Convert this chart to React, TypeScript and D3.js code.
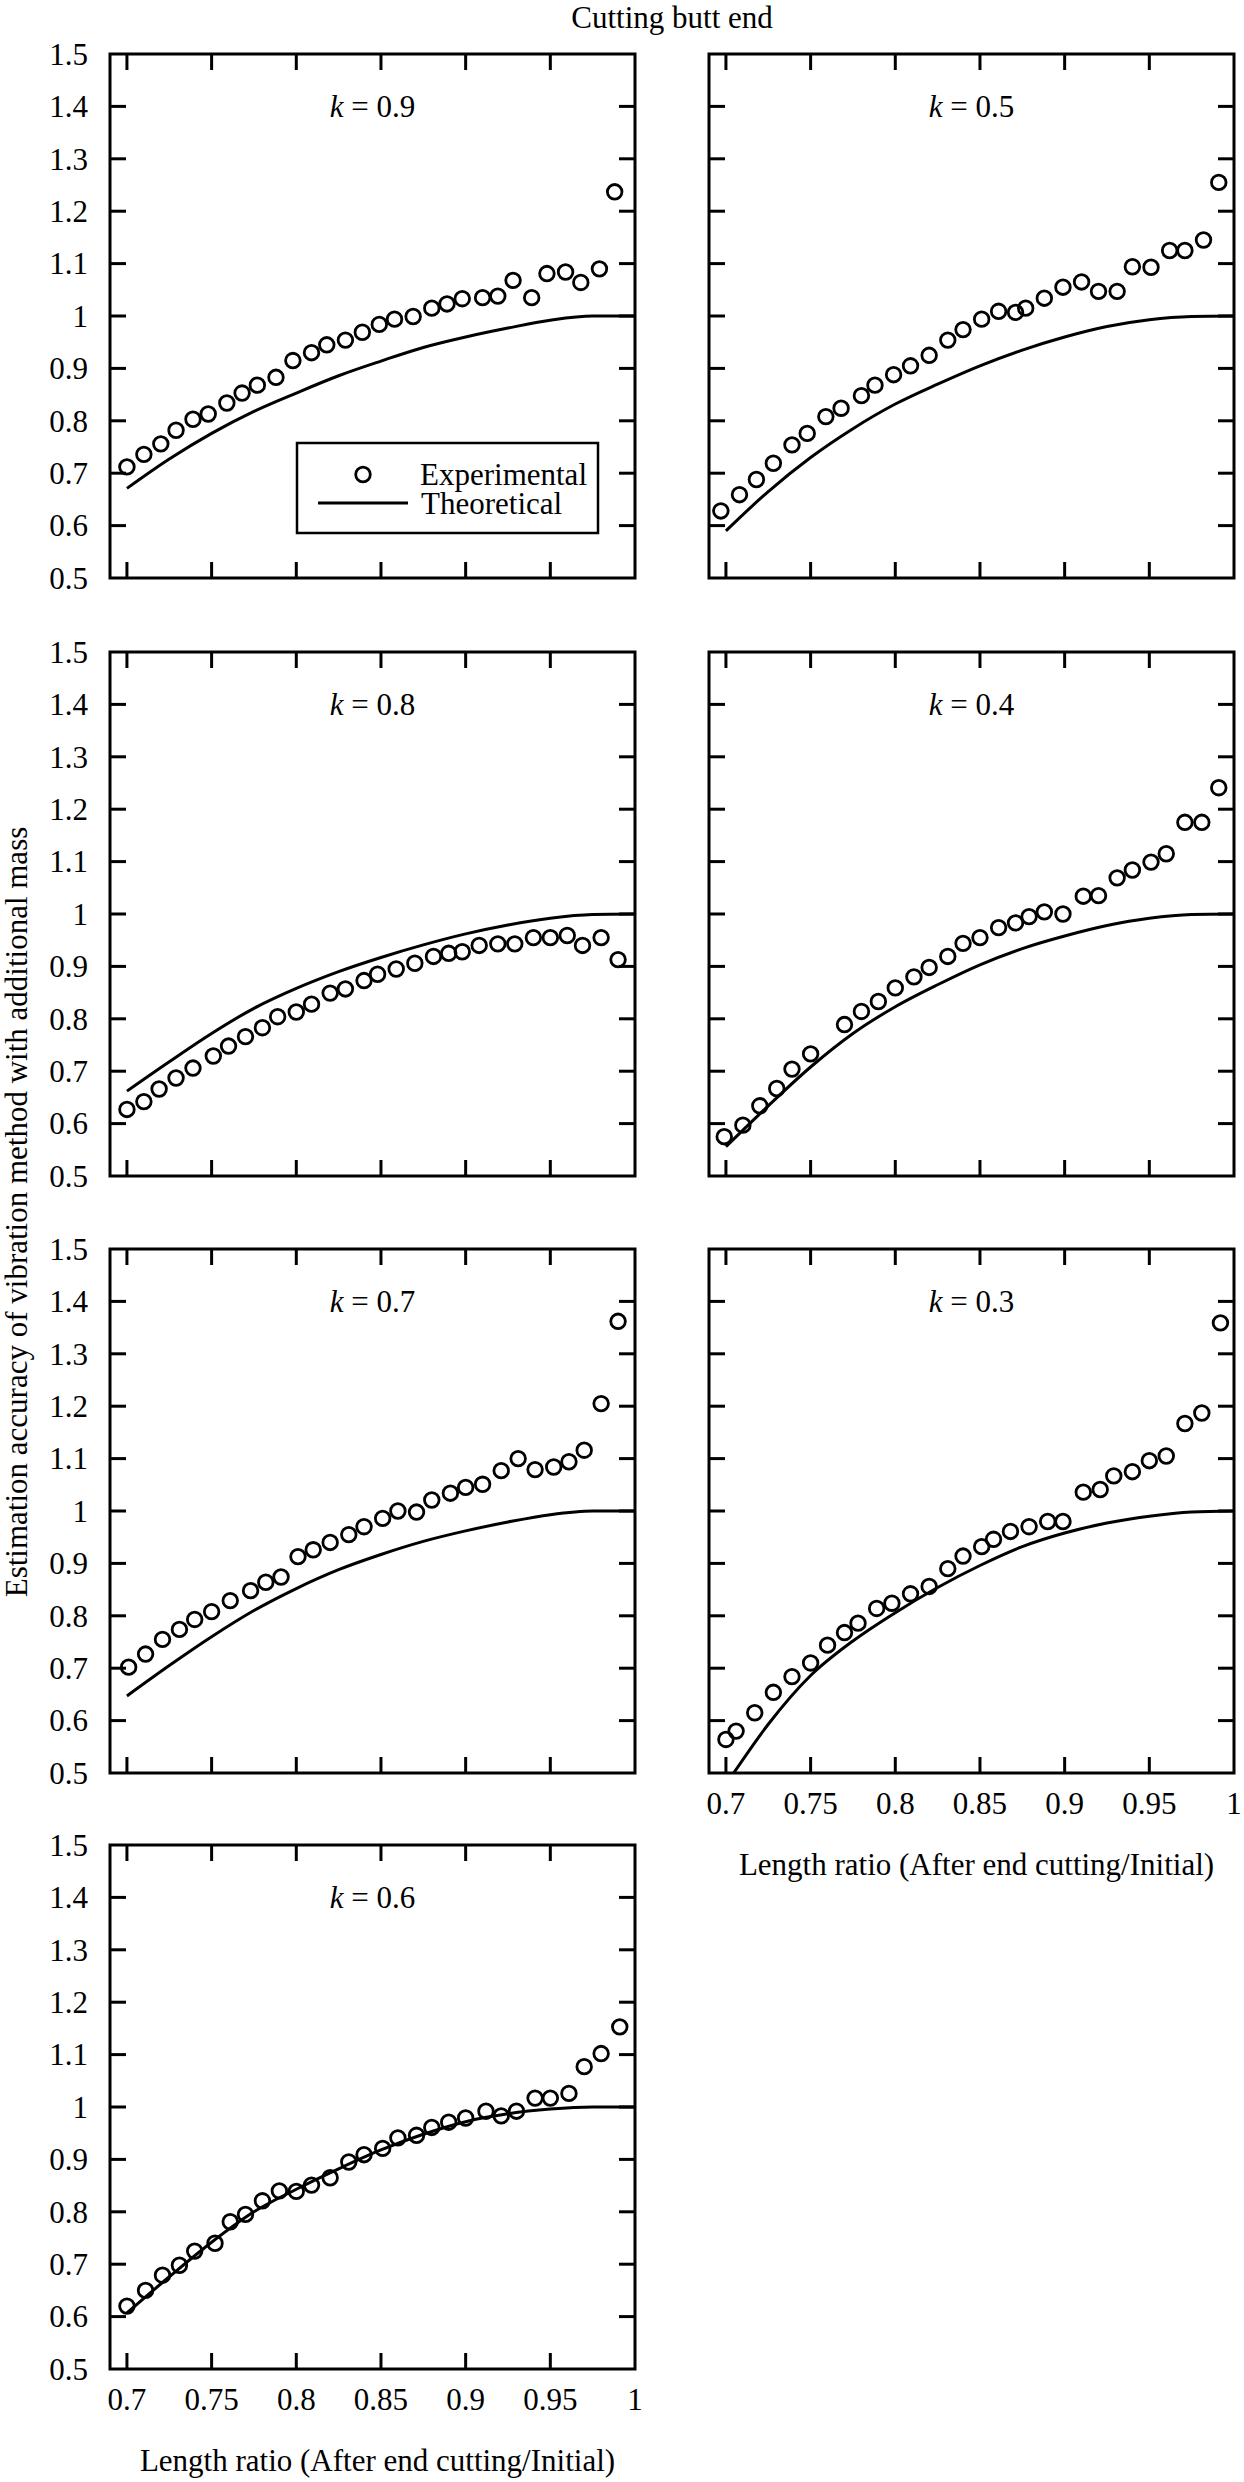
import React, { useEffect, useRef } from 'react';
import * as d3 from 'd3';

// axis ticks shared by all panels
const X_TICKS = [0.7, 0.75, 0.8, 0.85, 0.9, 0.95, 1];
const Y_TICKS = [0.5, 0.6, 0.7, 0.8, 0.9, 1, 1.1, 1.2, 1.3, 1.4, 1.5];

// theoretical curves are read at these length ratios
const THEORY_X = [0.7, 0.725, 0.75, 0.775, 0.8, 0.825, 0.85, 0.875, 0.9, 0.925, 0.95, 0.975, 1.0];

// k = 0.9
const k09X = [0.700, 0.710, 0.720, 0.729, 0.739, 0.748, 0.759, 0.768, 0.777, 0.788, 0.798, 0.809, 0.818, 0.829, 0.839, 0.849, 0.858, 0.869, 0.880, 0.889, 0.898, 0.910, 0.919, 0.928, 0.939, 0.948, 0.959, 0.968, 0.979, 0.988];
const k09Y = [0.712, 0.736, 0.756, 0.782, 0.803, 0.813, 0.834, 0.853, 0.868, 0.883, 0.915, 0.930, 0.945, 0.954, 0.969, 0.984, 0.994, 0.999, 1.015, 1.023, 1.033, 1.035, 1.038, 1.068, 1.035, 1.081, 1.084, 1.064, 1.090, 1.237];
const k09Theory = [0.671, 0.727, 0.776, 0.818, 0.853, 0.886, 0.914, 0.940, 0.960, 0.977, 0.992, 1.0, 1.0];

// k = 0.5
const k05X = [0.697, 0.708, 0.718, 0.728, 0.739, 0.748, 0.759, 0.768, 0.780, 0.788, 0.799, 0.809, 0.820, 0.831, 0.840, 0.851, 0.861, 0.871, 0.877, 0.888, 0.899, 0.910, 0.920, 0.931, 0.940, 0.951, 0.962, 0.971, 0.982, 0.991];
const k05Y = [0.628, 0.659, 0.688, 0.719, 0.754, 0.776, 0.808, 0.824, 0.848, 0.868, 0.888, 0.905, 0.925, 0.954, 0.974, 0.994, 1.009, 1.007, 1.015, 1.034, 1.055, 1.065, 1.047, 1.047, 1.094, 1.093, 1.125, 1.125, 1.145, 1.255];
const k05Theory = [0.590, 0.665, 0.730, 0.785, 0.832, 0.870, 0.905, 0.935, 0.960, 0.980, 0.993, 0.999, 1.0];

// k = 0.8
const k08X = [0.700, 0.710, 0.719, 0.729, 0.739, 0.751, 0.760, 0.770, 0.780, 0.789, 0.800, 0.809, 0.820, 0.829, 0.840, 0.848, 0.859, 0.870, 0.881, 0.890, 0.898, 0.908, 0.919, 0.929, 0.940, 0.950, 0.960, 0.969, 0.980, 0.990];
const k08Y = [0.627, 0.642, 0.666, 0.687, 0.706, 0.729, 0.748, 0.766, 0.783, 0.804, 0.813, 0.828, 0.849, 0.857, 0.873, 0.885, 0.895, 0.906, 0.919, 0.925, 0.928, 0.940, 0.943, 0.943, 0.955, 0.955, 0.959, 0.940, 0.955, 0.913];
const k08Theory = [0.662, 0.718, 0.772, 0.820, 0.858, 0.890, 0.917, 0.941, 0.962, 0.979, 0.992, 0.999, 1.0];

// k = 0.4 (no point at 0.76)
const k04X = [0.699, 0.710, 0.720, 0.730, 0.739, 0.750, 0.770, 0.780, 0.790, 0.800, 0.811, 0.820, 0.831, 0.840, 0.850, 0.861, 0.871, 0.879, 0.888, 0.899, 0.911, 0.920, 0.931, 0.940, 0.951, 0.960, 0.971, 0.981, 0.991];
const k04Y = [0.575, 0.597, 0.634, 0.667, 0.704, 0.733, 0.789, 0.814, 0.833, 0.859, 0.880, 0.898, 0.919, 0.944, 0.955, 0.974, 0.983, 0.995, 1.004, 1.000, 1.034, 1.035, 1.069, 1.084, 1.099, 1.115, 1.175, 1.175, 1.241];
const k04Theory = [0.556, 0.634, 0.708, 0.772, 0.823, 0.865, 0.903, 0.934, 0.958, 0.978, 0.992, 0.999, 1.0];

// k = 0.7
const k07X = [0.701, 0.711, 0.721, 0.731, 0.740, 0.750, 0.761, 0.773, 0.782, 0.791, 0.801, 0.810, 0.820, 0.831, 0.840, 0.851, 0.860, 0.871, 0.880, 0.891, 0.900, 0.910, 0.921, 0.931, 0.941, 0.952, 0.961, 0.970, 0.980, 0.990];
const k07Y = [0.702, 0.727, 0.755, 0.774, 0.793, 0.808, 0.829, 0.848, 0.864, 0.874, 0.913, 0.926, 0.940, 0.955, 0.970, 0.986, 1.000, 0.998, 1.021, 1.034, 1.045, 1.051, 1.077, 1.100, 1.079, 1.084, 1.094, 1.116, 1.205, 1.362];
const k07Theory = [0.647, 0.705, 0.760, 0.810, 0.852, 0.888, 0.917, 0.942, 0.962, 0.979, 0.993, 1.0, 1.0];

// k = 0.3
const k03X = [0.700, 0.706, 0.717, 0.728, 0.739, 0.750, 0.760, 0.770, 0.778, 0.789, 0.798, 0.809, 0.820, 0.831, 0.840, 0.851, 0.858, 0.868, 0.879, 0.890, 0.899, 0.911, 0.921, 0.929, 0.940, 0.950, 0.960, 0.971, 0.981, 0.992];
const k03Y = [0.564, 0.580, 0.615, 0.654, 0.684, 0.710, 0.744, 0.768, 0.786, 0.814, 0.824, 0.842, 0.856, 0.890, 0.914, 0.932, 0.946, 0.961, 0.970, 0.980, 0.980, 1.036, 1.041, 1.067, 1.075, 1.096, 1.105, 1.167, 1.187, 1.359];
const k03Theory = [0.478, 0.593, 0.686, 0.752, 0.806, 0.854, 0.896, 0.932, 0.958, 0.977, 0.990, 0.998, 1.0];

// k = 0.6
const k06X = [0.700, 0.711, 0.721, 0.731, 0.740, 0.752, 0.761, 0.770, 0.780, 0.790, 0.800, 0.809, 0.820, 0.831, 0.840, 0.851, 0.860, 0.871, 0.880, 0.890, 0.900, 0.912, 0.921, 0.930, 0.941, 0.950, 0.961, 0.970, 0.980, 0.991];
const k06Y = [0.620, 0.650, 0.679, 0.698, 0.725, 0.740, 0.781, 0.795, 0.821, 0.840, 0.839, 0.851, 0.865, 0.895, 0.909, 0.921, 0.941, 0.946, 0.961, 0.971, 0.979, 0.992, 0.983, 0.992, 1.017, 1.017, 1.026, 1.077, 1.102, 1.153];
const k06Theory = [0.607, 0.676, 0.742, 0.800, 0.843, 0.882, 0.918, 0.948, 0.972, 0.987, 0.996, 1.0, 1.0];

const PANELS = [
  { k: '0.9', ex: k09X, ey: k09Y, th: k09Theory, col: 0, row: 0 },
  { k: '0.5', ex: k05X, ey: k05Y, th: k05Theory, col: 1, row: 0 },
  { k: '0.8', ex: k08X, ey: k08Y, th: k08Theory, col: 0, row: 1 },
  { k: '0.4', ex: k04X, ey: k04Y, th: k04Theory, col: 1, row: 1 },
  { k: '0.7', ex: k07X, ey: k07Y, th: k07Theory, col: 0, row: 2 },
  { k: '0.3', ex: k03X, ey: k03Y, th: k03Theory, col: 1, row: 2 },
  { k: '0.6', ex: k06X, ey: k06Y, th: k06Theory, col: 0, row: 3 },
];

const WIDTH = 1244;
const HEIGHT = 2482;
const COL_X = [110, 709];
const ROW_Y = [54, 652, 1249, 1845];
const PW = 525;
const PH = 524;
const FONT = '"Liberation Serif", "Times New Roman", serif';
const FS = 31;
const TICK = 16;

const App: React.FC = () => {
  const svgRef = useRef<SVGSVGElement>(null);

  useEffect(() => {
    if (!svgRef.current) return;
    const svg = d3.select(svgRef.current);
    svg.selectAll('*').remove();

    const x = d3.scaleLinear().domain([0.69, 1.0]).range([0, PW]);
    const y = d3.scaleLinear().domain([0.5, 1.5]).range([PH, 0]);

    // figure title
    svg.append('text')
      .attr('x', 672).attr('y', 28)
      .attr('text-anchor', 'middle')
      .style('font-family', FONT).style('font-size', `${FS}px`)
      .text('Cutting butt end');

    // shared y-axis title
    svg.append('text')
      .attr('transform', `translate(27,1212) rotate(-90)`)
      .attr('text-anchor', 'middle')
      .style('font-family', FONT).style('font-size', `${FS}px`)
      .text('Estimation accuracy of vibration method with additional mass');

    PANELS.forEach((p, i) => {
      const g = svg.append('g')
        .attr('transform', `translate(${COL_X[p.col]},${ROW_Y[p.row]})`);

      const clipId = `clip-${i}`;
      g.append('clipPath').attr('id', clipId)
        .append('rect').attr('width', PW).attr('height', PH);

      // theoretical curve
      const line = d3.line<number>()
        .x((_, j) => x(THEORY_X[j]))
        .y(d => y(d))
        .curve(d3.curveMonotoneX);
      g.append('path')
        .attr('d', line(p.th))
        .attr('fill', 'none')
        .attr('stroke', '#000')
        .attr('stroke-width', 3)
        .attr('clip-path', `url(#${clipId})`);

      // experimental points
      g.selectAll('.pt')
        .data(p.ey)
        .enter().append('circle')
        .attr('cx', (_, j) => x(p.ex[j]))
        .attr('cy', d => y(d))
        .attr('r', 7.3)
        .attr('fill', 'none')
        .attr('stroke', '#000')
        .attr('stroke-width', 2.8);

      // inward ticks on all four sides
      const xt = X_TICKS.filter(t => t < 1);
      const yt = Y_TICKS.filter(t => t > 0.5 && t < 1.5);
      xt.forEach(t => {
        g.append('line').attr('x1', x(t)).attr('x2', x(t)).attr('y1', PH).attr('y2', PH - TICK)
          .attr('stroke', '#000').attr('stroke-width', 3);
        g.append('line').attr('x1', x(t)).attr('x2', x(t)).attr('y1', 0).attr('y2', TICK)
          .attr('stroke', '#000').attr('stroke-width', 3);
      });
      yt.forEach(t => {
        g.append('line').attr('x1', 0).attr('x2', TICK).attr('y1', y(t)).attr('y2', y(t))
          .attr('stroke', '#000').attr('stroke-width', 3);
        g.append('line').attr('x1', PW).attr('x2', PW - TICK).attr('y1', y(t)).attr('y2', y(t))
          .attr('stroke', '#000').attr('stroke-width', 3);
      });

      g.append('rect')
        .attr('width', PW).attr('height', PH)
        .attr('fill', 'none').attr('stroke', '#000').attr('stroke-width', 3);

      // y tick labels on the left column only
      if (p.col === 0) {
        g.selectAll('.yl')
          .data(Y_TICKS)
          .enter().append('text')
          .attr('x', -22)
          .attr('y', d => y(d))
          .attr('dy', '0.35em')
          .attr('text-anchor', 'end')
          .style('font-family', FONT).style('font-size', `${FS}px`)
          .text(d => String(d));
      }

      // x tick labels + title under the last panel of each column
      const isBottom = (p.col === 0 && p.row === 3) || (p.col === 1 && p.row === 2);
      if (isBottom) {
        g.selectAll('.xl')
          .data(X_TICKS)
          .enter().append('text')
          .attr('x', d => x(d))
          .attr('y', PH + 41)
          .attr('text-anchor', 'middle')
          .style('font-family', FONT).style('font-size', `${FS}px`)
          .text(d => String(d));
        g.append('text')
          .attr('x', PW / 2 + 5)
          .attr('y', PH + 102)
          .attr('text-anchor', 'middle')
          .style('font-family', FONT).style('font-size', `${FS}px`)
          .text('Length ratio (After end cutting/Initial)');
      }

      // k label
      const kt = g.append('text')
        .attr('x', PW / 2)
        .attr('y', y(1.4))
        .attr('dy', '0.35em')
        .attr('text-anchor', 'middle')
        .style('font-family', FONT).style('font-size', `${FS}px`);
      kt.append('tspan').style('font-style', 'italic').text('k');
      kt.append('tspan').text(` = ${p.k}`);

      // legend in the first panel
      if (i === 0) {
        const lg = g.append('g');
        lg.append('rect')
          .attr('x', 187).attr('y', 389).attr('width', 301).attr('height', 90)
          .attr('fill', '#fff').attr('stroke', '#000').attr('stroke-width', 2.5);
        lg.append('circle')
          .attr('cx', 253).attr('cy', 420.5).attr('r', 7.3)
          .attr('fill', 'none').attr('stroke', '#000').attr('stroke-width', 2.8);
        lg.append('text')
          .attr('x', 310).attr('y', 420.5).attr('dy', '0.35em')
          .style('font-family', FONT).style('font-size', `${FS}px`)
          .text('Experimental');
        lg.append('line')
          .attr('x1', 208).attr('x2', 298).attr('y1', 449).attr('y2', 449)
          .attr('stroke', '#000').attr('stroke-width', 3);
        lg.append('text')
          .attr('x', 311).attr('y', 449).attr('dy', '0.35em')
          .style('font-family', FONT).style('font-size', `${FS}px`)
          .text('Theoretical');
      }
    });
  }, []);

  return (
    <svg
      ref={svgRef}
      width={WIDTH}
      height={HEIGHT}
      viewBox={`0 0 ${WIDTH} ${HEIGHT}`}
      style={{ position: 'absolute', left: 0, top: 0, background: '#fff', display: 'block' }}
    />
  );
};

export default App;
